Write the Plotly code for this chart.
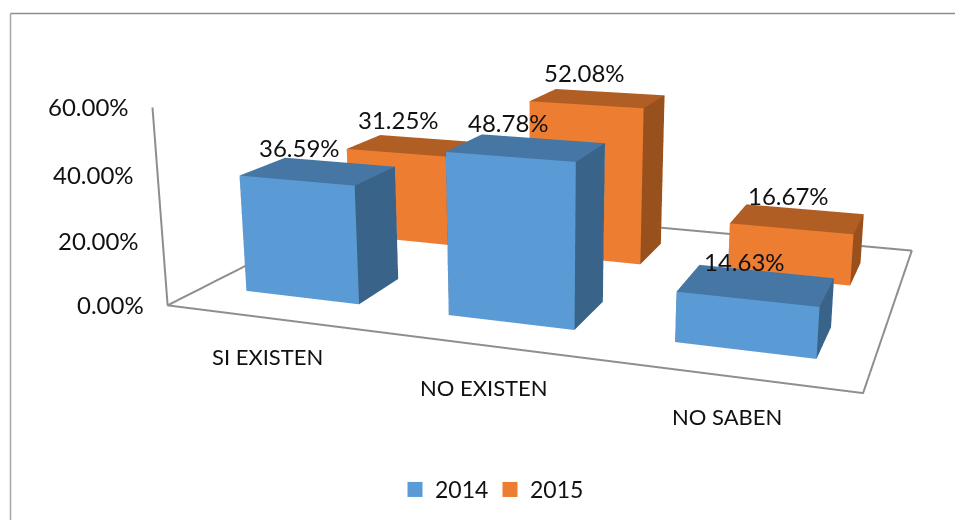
import plotly.graph_objects as go

categories = ["SI EXISTEN", "NO EXISTEN", "NO SABEN"]
series_names = ["2014", "2015"]
values_2014 = [0.3659, 0.4878, 0.1463]
values_2015 = [0.3125, 0.5208, 0.1667]
labels_2014 = ["36.59%", "48.78%", "14.63%"]
labels_2015 = ["31.25%", "52.08%", "16.67%"]
tick_values = [0, 0.2, 0.4, 0.6]
tick_labels = ["0.00%", "20.00%", "40.00%", "60.00%"]

# Scene geometry. Plotly's field of view is fixed, so the narrow lens of the
# original is obtained with a figure larger than the window, offset by TOP.
FIG_W, FIG_H, TOP = 1076, 1123, -327
EYE = dict(x=1.302, y=-3.850, z=0.964)
CENTER = dict(x=-0.087, y=0, z=-0.166)
UP = dict(x=-0.001, y=0, z=1)
ASPECT = dict(x=2, y=1.336, z=0.587)
GAP = 0.215
ROW_2014 = (0.149, 0.348)
ROW_2015 = (0.654, 0.847)


def paper(px, py):
    return px / FIG_W, 1 - (py - TOP) / FIG_H


BLUE = ("#5B9BD5", "#4676A3", "#396389")
ORANGE = ("#ED7D31", "#B15E24", "#98501D")


def box(x0, x1, y0, y1, z, cols, name):
    xs = [x0, x1, x1, x0, x0, x1, x1, x0]
    ys = [y0, y0, y1, y1, y0, y0, y1, y1]
    zs = [0, 0, 0, 0, z, z, z, z]
    i = [0, 0, 4, 4, 0, 0, 1, 1, 2, 2, 3, 3]
    j = [1, 2, 5, 6, 1, 5, 2, 6, 3, 7, 0, 4]
    k = [2, 3, 6, 7, 5, 4, 6, 5, 7, 6, 4, 7]
    fc = [cols[0]] * 2 + [cols[1]] * 2 + [cols[0]] * 2 + [cols[2]] * 2 + [cols[0]] * 2 + [cols[2]] * 2
    return go.Mesh3d(x=xs, y=ys, z=zs, i=i, j=j, k=k, facecolor=fc, flatshading=True,
                     lighting=dict(ambient=1, diffuse=0, specular=0, fresnel=0, roughness=1),
                     hoverinfo="skip", showlegend=False, name=name)


fig = go.Figure()
for vals, row, cols, name in [(values_2015, ROW_2015, ORANGE, series_names[1]),
                              (values_2014, ROW_2014, BLUE, series_names[0])]:
    for ci, v in enumerate(vals):
        fig.add_trace(box(ci + GAP, ci + 1 - GAP, row[0], row[1], v, cols, name))

# Floor outline and the value-axis line
fig.add_trace(go.Scatter3d(x=[0, 3, 3, 0, 0, 0], y=[0, 0, 1, 1, 0, 0], z=[0, 0, 0, 0, 0, tick_values[-1]],
                           mode="lines", line=dict(color="#8e8e8e", width=4),
                           hoverinfo="skip", showlegend=False))

# Legend keys
for name, col, lg in zip(series_names, (BLUE[0], ORANGE[0]), ("legend", "legend2")):
    fig.add_trace(go.Scatter3d(x=[None], y=[None], z=[None], mode="markers", name=name, legend=lg,
                               marker=dict(symbol="square", size=15, color=col)))

FONT = dict(family="Lato", size=24, color="#111111")
ann = []
for ci, (val, lab, (dx, dy)) in enumerate(zip(values_2014, labels_2014, [(-19, 24), (-18, 25), (-12, 23)])):
    ann.append(dict(x=ci + .5, y=sum(ROW_2014) / 2, z=val, text=lab, showarrow=False, xshift=dx, yshift=dy, font=FONT))
for ci, (val, lab, (dx, dy)) in enumerate(zip(values_2015, labels_2015, [(-15, 26), (-13.5, 26), (-9, 23)])):
    ann.append(dict(x=ci + .5, y=sum(ROW_2015) / 2, z=val, text=lab, showarrow=False, xshift=dx, yshift=dy, font=FONT))
for t, l in zip(tick_values, tick_labels):
    ann.append(dict(x=0, y=0, z=t, text=l, showarrow=False, xanchor="right", xshift=-21.5, yshift=1, font=FONT))
for ci, (c_, (dx, dy)) in enumerate(zip(categories, [(0, -39), (-0.5, -42), (-1.5, -40)])):
    ann.append(dict(x=ci + .5, y=0, z=0, text=c_, showarrow=False, xshift=dx, yshift=dy,
                    font=dict(family="Lato", size=22, color="#111111")))

x0p, y0p = paper(10.5, 13.5)
x1p, _ = paper(955, 13.5)
_, y1p = paper(10.5, 520)
shapes = [
    dict(type="line", xref="paper", yref="paper", x0=x0p, x1=x1p, y0=y0p, y1=y0p, line=dict(color="#8e8e8e", width=1.5)),
    dict(type="line", xref="paper", yref="paper", x0=x0p, x1=x0p, y0=y0p, y1=y1p, line=dict(color="#a6a6a6", width=1.5)),
]
LEG_FONT = dict(family="Lato", size=23, color="#111111")
l1x, ly = paper(395, 489.5)
l2x, _ = paper(490, 489.5)
axis = dict(visible=False, showgrid=False, zeroline=False, showspikes=False)
fig.update_layout(
    width=FIG_W, height=FIG_H, margin=dict(l=0, r=0, t=0, b=0), paper_bgcolor="white", showlegend=True,
    legend=dict(orientation="h", x=l1x, y=ly, yanchor="middle", xanchor="left", font=LEG_FONT, bgcolor="rgba(0,0,0,0)"),
    legend2=dict(orientation="h", x=l2x, y=ly, yanchor="middle", xanchor="left", font=LEG_FONT, bgcolor="rgba(0,0,0,0)"),
    shapes=shapes,
    scene=dict(domain=dict(x=[0, 1], y=[0, 1]), aspectmode="manual", aspectratio=ASPECT,
               xaxis=dict(range=[0, 3], **axis), yaxis=dict(range=[0, 1], **axis),
               zaxis=dict(range=[0, tick_values[-1]], **axis),
               camera=dict(eye=EYE, center=CENTER, up=UP), annotations=ann),
)
post = f"""var gd=document.getElementById('{{plot_id}}');
document.documentElement.style.overflow='hidden';document.body.style.overflow='hidden';document.body.style.margin='0';
gd.style.position='absolute';gd.style.left='0px';gd.style.top='{TOP}px';"""
fig.write_html("out.html", post_script=post, config=dict(displayModeBar=False))
